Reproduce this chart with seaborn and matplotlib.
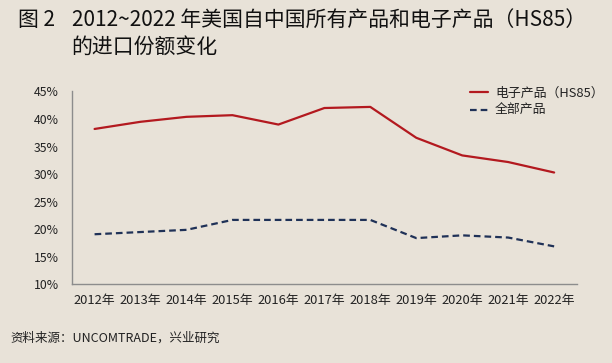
import numpy as np
import pandas as pd
import matplotlib
matplotlib.use('Agg')
import matplotlib.pyplot as plt
import seaborn as sns

years = ['2012年', '2013年', '2014年', '2015年', '2016年', '2017年',
         '2018年', '2019年', '2020年', '2021年', '2022年']
electronics = [38.2, 39.5, 40.4, 40.7, 39.0, 42.0, 42.2, 36.6, 33.4, 32.2, 30.3]
all_products = [19.1, 19.5, 19.9, 21.7, 21.7, 21.7, 21.7, 18.4, 18.9, 18.5, 16.9]
series_names = ['电子产品（HS85）', '全部产品']
y_ticks = [10, 15, 20, 25, 30, 35, 40, 45]

bg = '#E8E2D8'
df = pd.DataFrame({
    'x': list(range(len(years))) * 2,
    'share': electronics + all_products,
    'series': [series_names[0]] * len(years) + [series_names[1]] * len(years),
})

sns.set_style('white')
plt.rcParams['font.family'] = ['Noto Sans CJK SC', 'DejaVu Sans']

fig = plt.figure(figsize=(6.12, 3.63), dpi=100, facecolor=bg)
ax = fig.add_axes([0.117, 0.2165, 0.826, 0.5315])
ax.set_facecolor(bg)

sns.lineplot(data=df, x='x', y='share', hue='series', style='series',
             palette={series_names[0]: '#B3191F', series_names[1]: '#1F3157'},
             dashes={series_names[0]: '', series_names[1]: (3, 1.8)},
             linewidth=1.6, ax=ax)

ax.set_xlim(-0.5, len(years) - 0.5)
ax.set_ylim(10, 45)
ax.set_yticks(y_ticks)
ax.set_yticklabels([f'{t}%' for t in y_ticks])
ax.set_xticks(np.arange(-0.5, len(years), 1.0))
ax.set_xticklabels([])
ax.set_xticks(range(len(years)), minor=True)
ax.set_xticklabels(years, minor=True)
ax.tick_params(axis='x', which='major', length=3.75, width=1, color='#8C8C8C', direction='out')
ax.tick_params(axis='x', which='minor', length=0, labelsize=9.3, colors='#222222', pad=7)
ax.tick_params(axis='y', length=3.75, width=1, color='#8C8C8C', direction='out',
               labelsize=8.8, labelcolor='#222222', pad=5.5)
ax.set_xlabel('')
ax.set_ylabel('')
for s in ['top', 'right']:
    ax.spines[s].set_visible(False)
for s in ['left', 'bottom']:
    ax.spines[s].set_color('#8C8C8C')
    ax.spines[s].set_linewidth(1)
ax.grid(False)

leg = ax.legend(loc='upper left', bbox_to_anchor=(0.765, 1.085), frameon=False,
                fontsize=9.3, handlelength=1.4, handletextpad=0.55, labelspacing=0.35)
for t in leg.get_texts():
    t.set_color('#222222')

fig.text(0.029, 0.928, '图 2', fontsize=15, color='#111111', va='baseline')
fig.text(0.117, 0.928, '2012~2022 年美国自中国所有产品和电子产品（HS85）',
         fontsize=15, color='#111111', va='baseline')
fig.text(0.117, 0.854, '的进口份额变化', fontsize=15, color='#111111', va='baseline')
fig.text(0.017, 0.06, '资料来源：UNCOMTRADE，兴业研究', fontsize=9,
         color='#222222', va='baseline')

plt.savefig('out.png', dpi=100, facecolor=bg)
